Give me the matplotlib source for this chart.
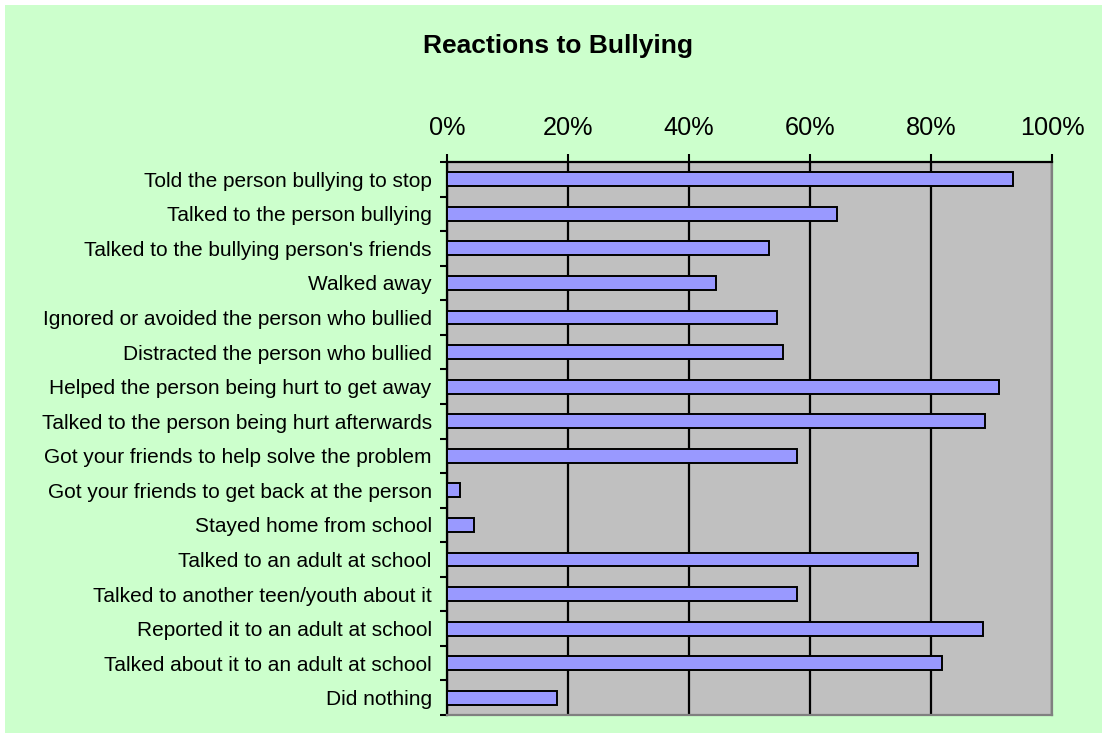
import numpy as np
import matplotlib.pyplot as plt
from matplotlib.patches import Rectangle
from matplotlib.ticker import FuncFormatter

# survey answers, top to bottom as shown
reactions = [
    "Told the person bullying to stop",
    "Talked to the person bullying",
    "Talked to the bullying person's friends",
    "Walked away",
    "Ignored or avoided the person who bullied",
    "Distracted the person who bullied",
    "Helped the person being hurt to get away",
    "Talked to the person being hurt afterwards",
    "Got your friends to help solve the problem",
    "Got your friends to get back at the person",
    "Stayed home from school",
    "Talked to an adult at school",
    "Talked to another teen/youth about it",
    "Reported it to an adult at school",
    "Talked about it to an adult at school",
    "Did nothing",
]
percent = [93.5, 64.4, 53.3, 44.4, 54.5, 55.6, 91.2, 88.9,
           57.9, 2.2, 4.4, 77.8, 57.9, 88.6, 81.9, 18.2]
xticks = [0, 20, 40, 60, 80, 100]

plt.rcParams['font.family'] = ['Liberation Sans', 'DejaVu Sans']

fig = plt.figure(figsize=(11.02, 7.33), dpi=100)
fig.patch.set_facecolor('white')
# green chart area, leaving a thin white strip top/left
fig.add_artist(Rectangle((5 / 1102, 0), 1, 1 - 5 / 733, transform=fig.transFigure,
                         facecolor='#CCFFCC', edgecolor='none', zorder=-10))

ax = fig.add_axes([447 / 1102, 1 - 715 / 733, 605 / 1102, 553 / 733])
ax.set_facecolor('#C0C0C0')

y = np.arange(len(reactions))
ax.barh(y, percent, height=0.4, color='#9999FF', edgecolor='black',
        linewidth=1.4, zorder=3)

ax.set_xlim(0, 100)
ax.set_ylim(len(reactions) - 0.5, -0.5)

ax.xaxis.tick_top()
ax.set_xticks(xticks)
ax.xaxis.set_major_formatter(FuncFormatter(lambda v, p: f"{v:.0f}%"))
ax.tick_params(axis='x', which='major', length=6, width=1.5, pad=10,
               labelsize=18.2, direction='out')
ax.grid(axis='x', color='black', linewidth=1.6, zorder=1)

ax.set_yticks(y)
ax.set_yticklabels(reactions)
ax.set_yticks(np.arange(len(reactions) + 1) - 0.5, minor=True)
ax.tick_params(axis='y', which='major', length=0, pad=11, labelsize=15)
ax.tick_params(axis='y', which='minor', length=5, width=1.5, direction='out')

for side in ['left', 'top']:
    ax.spines[side].set_color('black')
    ax.spines[side].set_linewidth(1.6)
for side in ['right', 'bottom']:
    ax.spines[side].set_color('#808080')
    ax.spines[side].set_linewidth(1.6)

fig.text(558 / 1102, 1 - 46 / 733, "Reactions to Bullying", ha='center',
         va='center', fontsize=19, fontweight='bold')

fig.savefig('out.png', dpi=100)
